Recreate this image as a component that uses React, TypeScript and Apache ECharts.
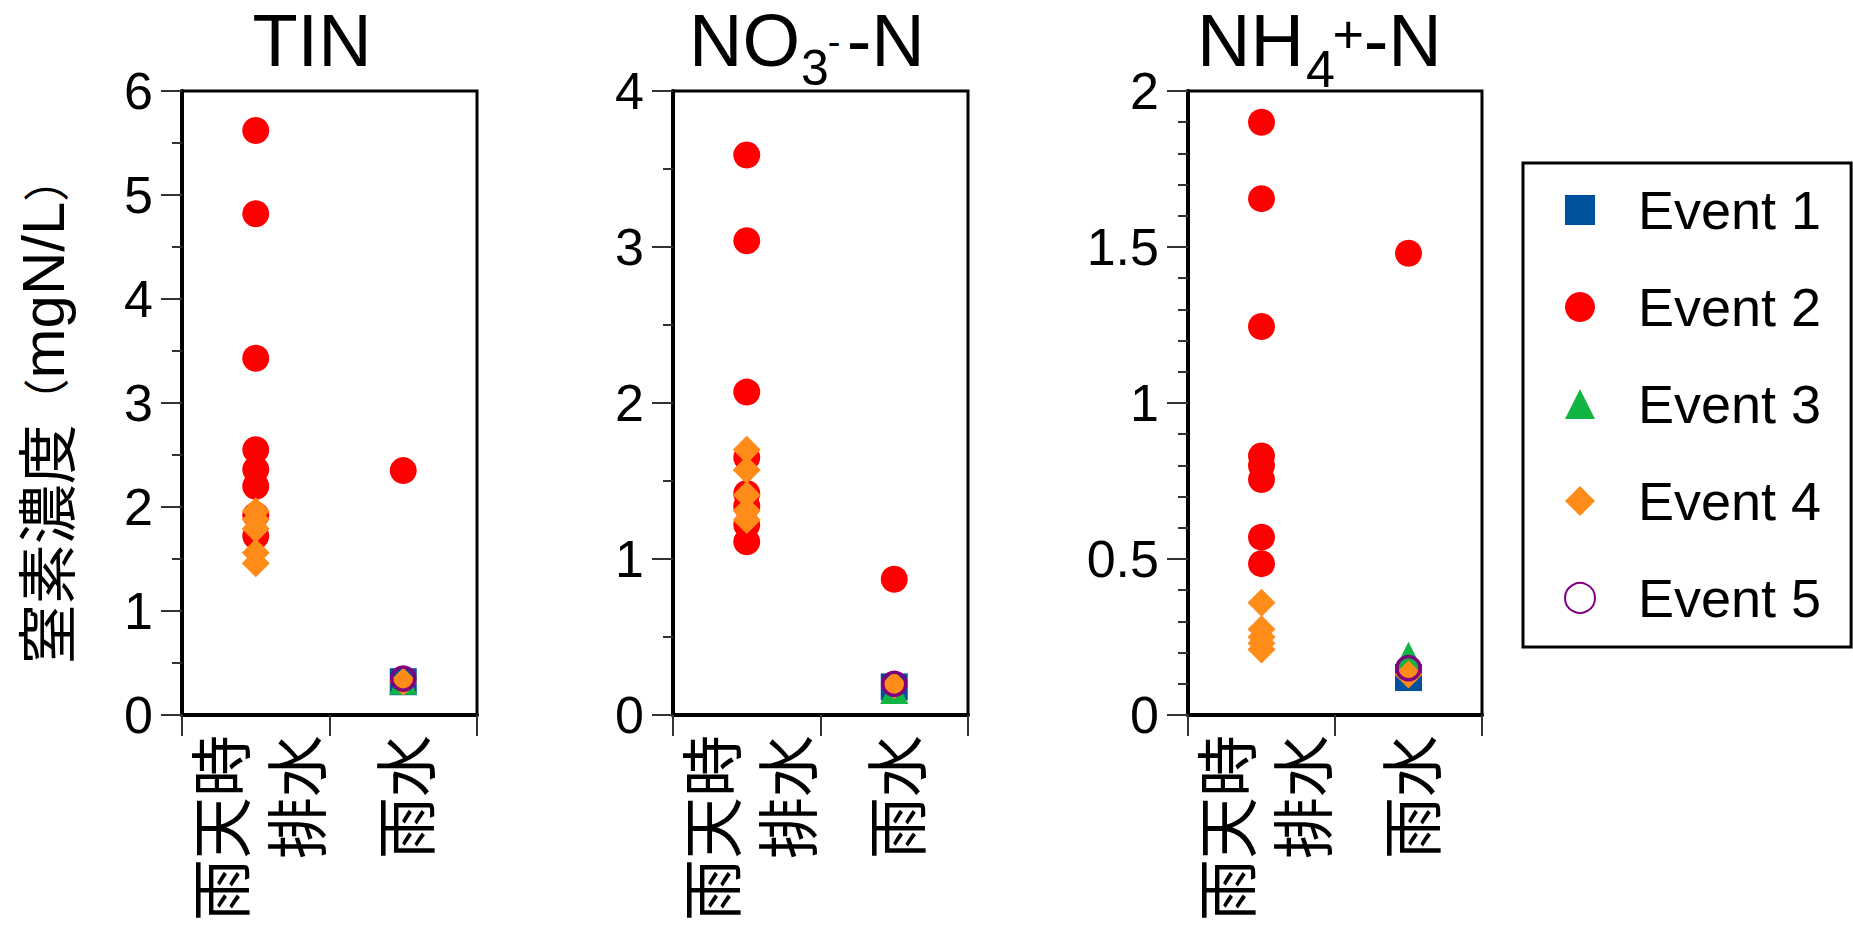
import React, { useEffect, useRef } from "react";
import * as echarts from "echarts";

// ---- data ----
const categories = ["雨天時\n排水", "雨水"];
const eventNames = ["Event 1", "Event 2", "Event 3", "Event 4", "Event 5"];

// values per event (Event 1..5) for 雨天時排水 (storm) and 雨水 (rain)
const tinStorm: number[][] = [[], [5.62, 4.82, 3.43, 2.55, 2.36, 2.2, 1.92, 1.72], [], [1.96, 1.88, 1.79, 1.56, 1.46], []];
const tinRain: number[] = [0.32, 2.35, 0.33, 0.32, 0.35];
const no3Storm: number[][] = [[], [3.59, 3.04, 2.07, 1.65, 1.42, 1.34, 1.22, 1.11], [], [1.7, 1.57, 1.41, 1.31, 1.25], []];
const no3Rain: number[] = [0.18, 0.87, 0.16, 0.19, 0.2];
const nh4Storm: number[][] = [[], [1.9, 1.655, 1.245, 0.83, 0.8, 0.755, 0.57, 0.485], [], [0.36, 0.275, 0.25, 0.23, 0.21], []];
const nh4Rain: number[] = [0.12, 1.48, 0.19, 0.13, 0.15];

const yMaxes = [6, 4, 2];
const yIntervals = [1, 1, 0.5];
const yMinorSplits = [2, 2, 5];

// ---- styles ----
const symbols = ["rect", "circle", "triangle", "diamond", "circle"];
const symbolSizes = [27, 27, 28, 28, 23];
const itemStyles: any[] = [
  { color: "#00519E", opacity: 1 },
  { color: "#FF0000", opacity: 1 },
  { color: "#12B544", opacity: 1 },
  { color: "#FF8C19", opacity: 1 },
  { color: "rgba(0,0,0,0)", borderColor: "#800080", borderWidth: 3.5, opacity: 1 },
];

const grids = [
  { left: 182, top: 91, width: 295, height: 624 },
  { left: 673, top: 91, width: 295, height: 624 },
  { left: 1188, top: 91, width: 294, height: 624 },
];

const LATIN = "Liberation Sans, Arial, sans-serif";
const CJK = "Noto Sans CJK JP, sans-serif";

function txt(x: number, y: number, text: string, fontSize: number, align = "left", lineHeight?: number) {
  return {
    type: "text",
    x,
    y,
    style: {
      text,
      fontSize,
      lineHeight: lineHeight ?? Math.round(fontSize * 0.75),
      fontFamily: LATIN,
      fill: "#000",
      align,
      verticalAlign: "middle",
    },
  };
}

export default function App() {
  const ref = useRef<HTMLDivElement>(null);

  useEffect(() => {
    const chart = echarts.init(ref.current!, null, { renderer: "svg" });
    const panels = [
      { storm: tinStorm, rain: tinRain },
      { storm: no3Storm, rain: no3Rain },
      { storm: nh4Storm, rain: nh4Rain },
    ];

    const series: any[] = [];
    panels.forEach((p, pi) => {
      eventNames.forEach((name, ei) => {
        const data: any[] = p.storm[ei].map((v) => [0, v]);
        if (p.rain[ei] != null) data.push([1, p.rain[ei]]);
        series.push({
          type: "scatter",
          name,
          xAxisIndex: pi,
          yAxisIndex: pi,
          data,
          symbol: symbols[ei],
          symbolSize: symbolSizes[ei],
          itemStyle: itemStyles[ei],
          z: 3 + ei,
          silent: true,
          emphasis: { disabled: true },
        });
      });
    });

    const option: any = {
      animation: false,
      backgroundColor: "#fff",
      grid: grids.map((g) => ({ ...g, show: true, borderColor: "#000", borderWidth: 3, containLabel: false })),
      xAxis: grids.map((_, i) => ({
        type: "category",
        gridIndex: i,
        data: categories,
        boundaryGap: true,
        axisLine: { show: true, lineStyle: { color: "#000", width: 4 } },
        axisTick: { show: true, inside: false, length: 21, interval: 0, lineStyle: { color: "#333", width: 2 } },
        axisLabel: {
          interval: 0,
          rotate: 90,
          margin: 20,
          fontSize: 62,
          lineHeight: 76,
          fontFamily: CJK,
          color: "#000",
        },
        splitLine: { show: false },
      })),
      yAxis: grids.map((_, i) => ({
        type: "value",
        gridIndex: i,
        min: 0,
        max: yMaxes[i],
        interval: yIntervals[i],
        axisLine: { show: true, lineStyle: { color: "#000", width: 4 } },
        axisTick: { show: true, inside: false, length: 21, lineStyle: { color: "#333", width: 2 } },
        minorTick: { show: true, splitNumber: yMinorSplits[i], length: 10, lineStyle: { color: "#333", width: 2 } },
        minorSplitLine: { show: false },
        splitLine: { show: false },
        axisLabel: { fontSize: 52, fontFamily: LATIN, color: "#000", margin: 29 },
      })),
      legend: {
        orient: "vertical",
        left: 1523,
        top: 163,
        padding: [17, 30, 19, 41],
        itemGap: 37,
        itemWidth: 30,
        itemHeight: 30,
        borderColor: "#000",
        borderWidth: 3,
        backgroundColor: "#fff",
        selectedMode: false,
        data: eventNames,
        textStyle: { fontSize: 54, fontFamily: LATIN, color: "#000", lineHeight: 60, padding: [0, 0, 0, 38] },
      },
      graphic: [
        // y axis name
        {
          type: "text",
          x: 43,
          y: 410,
          rotation: Math.PI / 2,
          style: {
            text: "{c|窒素濃度}{p|（}{l|mgN/L}{p|）}",
            rich: {
              c: { fontSize: 60, fontFamily: CJK, fill: "#000" },
              p: { fontSize: 46, fontFamily: CJK, fill: "#000" },
              l: { fontSize: 60, fontFamily: LATIN, fill: "#000" },
            },
            fill: "#000",
            align: "center",
            verticalAlign: "middle",
          },
        },
        // TIN title
        txt(312, 40.5, "TIN", 74, "center"),
        // NO3- -N title
        txt(689, 40.5, "NO", 74),
        txt(801, 67.5, "3", 50),
        txt(834, 42, "-", 38, "center", 12),
        txt(846.7, 40.5, "-N", 74),
        // NH4+ -N title
        txt(1197, 40.5, "NH", 74),
        txt(1306, 68.5, "4", 52),
        txt(1332.5, 34, "+", 54),
        txt(1363.7, 40.5, "-N", 74),
      ],
      series,
    };

    chart.setOption(option);
    return () => chart.dispose();
  }, []);

  return (
    <div
      ref={ref}
      style={{ position: "fixed", left: 0, top: 0, width: 1853, height: 931, background: "#fff" }}
    />
  );
}
